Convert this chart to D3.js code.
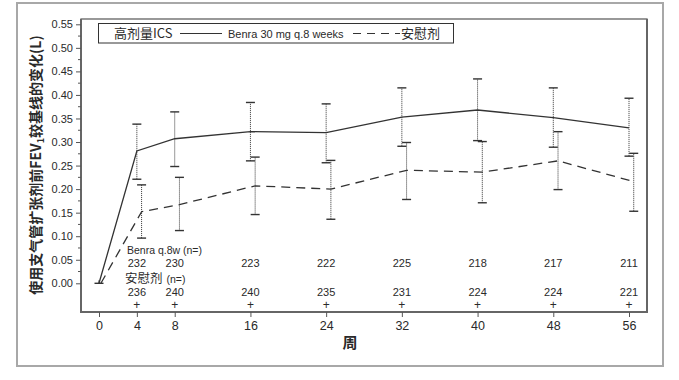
<!DOCTYPE html>
<html><head><meta charset="utf-8">
<script src="https://cdn.jsdelivr.net/npm/d3@7"></script>
<style>
html,body{margin:0;padding:0;background:#fff;}
svg{display:block;font-family:"Liberation Sans",Arial,"Noto Sans CJK SC",sans-serif;}
</style></head>
<body>
<svg id="chart" width="679" height="380"></svg>
<script>
const weeks = [0, 4, 8, 16, 24, 32, 40, 48, 56];
const benraMean  = [0, 0.281, 0.307, 0.322, 0.320, 0.353, 0.368, 0.352, 0.330];
const benraUpper = [0, 0.338, 0.364, 0.384, 0.381, 0.415, 0.434, 0.415, 0.393];
const benraLower = [0, 0.221, 0.248, 0.260, 0.256, 0.291, 0.303, 0.289, 0.270];
const placeboMean  = [0, 0.152, 0.167, 0.207, 0.200, 0.240, 0.236, 0.260, 0.216];
const placeboUpper = [0, 0.209, 0.225, 0.268, 0.261, 0.299, 0.301, 0.322, 0.276];
const placeboLower = [0, 0.096, 0.112, 0.146, 0.136, 0.178, 0.171, 0.199, 0.153];
const nWeeks = [4, 8, 16, 24, 32, 40, 48, 56];
const nBenra = [232, 230, 223, 222, 225, 218, 217, 211];
const nPlacebo = [236, 240, 240, 235, 231, 224, 224, 221];
const yTicks = [0, 0.05, 0.10, 0.15, 0.20, 0.25, 0.30, 0.35, 0.40, 0.45, 0.50, 0.55];
const xTicks = [0, 4, 8, 16, 24, 32, 40, 48, 56];
const legendLabels = ["高剂量ICS", "Benra 30 mg q.8 weeks", "安慰剂"];
const xTitle = "周";

const svg = d3.select("#chart");
const ink = "#2a2a2a";
const cjk = "'Noto Sans CJK SC','Liberation Sans',sans-serif";
const plot = {l: 81, r: 647, t: 19, b: 312};
const x = d3.scaleLinear().domain([0, 56]).range([99, 629]);
const y = d3.scaleLinear().domain([0, 0.55]).range([283.3, 24.3]);
const pOff = 0.5; // placebo horizontal offset (weeks)

// outer frame
svg.append("rect").attr("x", 17).attr("y", 3).attr("width", 646).attr("height", 363)
  .attr("fill", "#fff").attr("stroke", "#a8a8a8").attr("stroke-width", 2);

// plot frame
svg.append("rect").attr("x", plot.l).attr("y", plot.t).attr("width", plot.r - plot.l).attr("height", plot.b - plot.t)
  .attr("fill", "none").attr("stroke", "#555").attr("stroke-width", 1.2);
svg.append("line").attr("x1", plot.l).attr("x2", plot.l).attr("y1", plot.t).attr("y2", plot.b + 1)
  .attr("stroke", "#666").attr("stroke-width", 2);
svg.append("line").attr("x1", plot.l).attr("x2", plot.r + 1).attr("y1", plot.b).attr("y2", plot.b)
  .attr("stroke", "#666").attr("stroke-width", 2);
svg.append("line").attr("x1", plot.r).attr("x2", plot.r).attr("y1", plot.t).attr("y2", plot.b)
  .attr("stroke", "#666").attr("stroke-width", 2);

// y axis
const yAxis = d3.axisLeft(y).tickValues(yTicks).tickFormat(d3.format(".2f")).tickSize(5).tickPadding(3);
const gy = svg.append("g").attr("transform", `translate(${plot.l},0)`).call(yAxis);
gy.select(".domain").remove();
gy.selectAll("line").attr("stroke", "#555");
gy.selectAll("text").attr("font-size", 11).attr("fill", ink).attr("font-family", "'Liberation Sans',Arial,sans-serif");
const minor = d3.range(0.025, 0.55, 0.05);
svg.append("g").selectAll("line").data(minor).join("line")
  .attr("x1", plot.l - 3).attr("x2", plot.l).attr("y1", d => y(d)).attr("y2", d => y(d)).attr("stroke", "#555");

// x axis
const xAxis = d3.axisBottom(x).tickValues(xTicks).tickSize(5).tickPadding(4);
const gx = svg.append("g").attr("transform", `translate(0,${plot.b})`).call(xAxis);
gx.select(".domain").remove();
gx.selectAll("line").attr("stroke", "#555");
gx.selectAll("text").attr("font-size", 12.5).attr("fill", ink).attr("font-family", "'Liberation Sans',Arial,sans-serif");

// axis titles
svg.append("text").attr("x", 350).attr("y", 348).attr("text-anchor", "middle")
  .attr("font-family", cjk).attr("font-weight", "bold").attr("font-size", 15).attr("fill", ink).text(xTitle);
const yt = svg.append("text").attr("transform", "translate(41,165) rotate(-90)").attr("text-anchor", "middle")
  .attr("font-family", cjk).attr("font-weight", "bold").attr("font-size", 14).attr("fill", ink);
yt.append("tspan").text("使用支气管扩张剂前FEV");
yt.append("tspan").attr("font-size", 9).attr("dy", 3).text("1");
yt.append("tspan").attr("dy", -3).text("较基线的变化(L)");

// data
const benra = weeks.map((w, i) => ({w, m: benraMean[i], hi: benraUpper[i], lo: benraLower[i]}));
const placebo = weeks.map((w, i) => ({w: w === 0 ? w + 0.2 : w + pOff, m: placeboMean[i], hi: placeboUpper[i], lo: placeboLower[i]}));

const line = d3.line().x(d => x(d.w)).y(d => y(d.m));
svg.append("path").datum(benra).attr("d", line).attr("fill", "none").attr("stroke", "#333").attr("stroke-width", 1.3);
svg.append("path").datum(placebo).attr("d", line).attr("fill", "none").attr("stroke", "#333").attr("stroke-width", 1.3)
  .attr("stroke-dasharray", "9,6");

function errBars(data) {
  const g = svg.append("g");
  const d1 = data.filter(d => d.w > 1);
  g.selectAll(".wh").data(d1).join("line")
    .attr("x1", d => x(d.w)).attr("x2", d => x(d.w)).attr("y1", d => y(d.lo)).attr("y2", d => y(d.hi))
    .attr("stroke", "#333").attr("stroke-width", 1).attr("stroke-dasharray", "1,1");
  ["hi", "lo"].forEach(k => {
    g.selectAll(".cap" + k).data(d1).join("line")
      .attr("x1", d => x(d.w) - 4.5).attr("x2", d => x(d.w) + 4.5).attr("y1", d => y(d[k])).attr("y2", d => y(d[k]))
      .attr("stroke", "#333").attr("stroke-width", 1.4);
  });
}
errBars(benra);
errBars(placebo);
// zero-width bar at baseline
svg.append("line").attr("x1", x(0) - 4.5).attr("x2", x(0) + 4.5).attr("y1", y(0)).attr("y2", y(0))
  .attr("stroke", "#333").attr("stroke-width", 1.4);
svg.append("line").attr("x1", x(0)).attr("x2", x(0)).attr("y1", y(0) - 3).attr("y2", y(0))
  .attr("stroke", "#333").attr("stroke-width", 1);

// n at risk
svg.append("text").attr("x", 127).attr("y", 254).attr("font-size", 10.5).attr("fill", ink).text("Benra q.8w (n=)");
svg.append("g").selectAll("text").data(nWeeks).join("text")
  .attr("x", d => x(d)).attr("y", 267).attr("text-anchor", "middle").attr("font-size", 11).attr("fill", ink)
  .text((d, i) => nBenra[i]);
const pl = svg.append("text").attr("x", 125).attr("y", 283).attr("fill", ink);
pl.append("tspan").attr("font-family", cjk).attr("font-size", 12.5).text("安慰剂");
pl.append("tspan").attr("font-size", 10.5).attr("dx", 4).text("(n=)");
svg.append("g").selectAll("text").data(nWeeks).join("text")
  .attr("x", d => x(d)).attr("y", 295.8).attr("text-anchor", "middle").attr("font-size", 11).attr("fill", ink)
  .text((d, i) => nPlacebo[i]);
svg.append("g").selectAll("text").data(nWeeks).join("text")
  .attr("x", d => x(d)).attr("y", 309).attr("text-anchor", "middle").attr("font-size", 12).attr("fill", ink)
  .text("+");

// legend
svg.append("rect").attr("x", 98.5).attr("y", 23.5).attr("width", 355).attr("height", 19.5)
  .attr("fill", "#fff").attr("stroke", "#333").attr("stroke-width", 1);
svg.append("text").attr("x", 114).attr("y", 38).attr("font-family", cjk).attr("font-size", 13).attr("fill", ink).text(legendLabels[0]);
svg.append("line").attr("x1", 180).attr("x2", 222).attr("y1", 33.5).attr("y2", 33.5).attr("stroke", "#333").attr("stroke-width", 1.2);
svg.append("text").attr("x", 228).attr("y", 37.5).attr("font-size", 11).attr("fill", ink).text(legendLabels[1]);
svg.append("line").attr("x1", 353).attr("x2", 400).attr("y1", 33.5).attr("y2", 33.5).attr("stroke", "#333").attr("stroke-width", 1.2)
  .attr("stroke-dasharray", "8,6");
svg.append("text").attr("x", 401).attr("y", 38).attr("font-family", cjk).attr("font-size", 13).attr("fill", ink).text(legendLabels[2]);
</script>
</body></html>
